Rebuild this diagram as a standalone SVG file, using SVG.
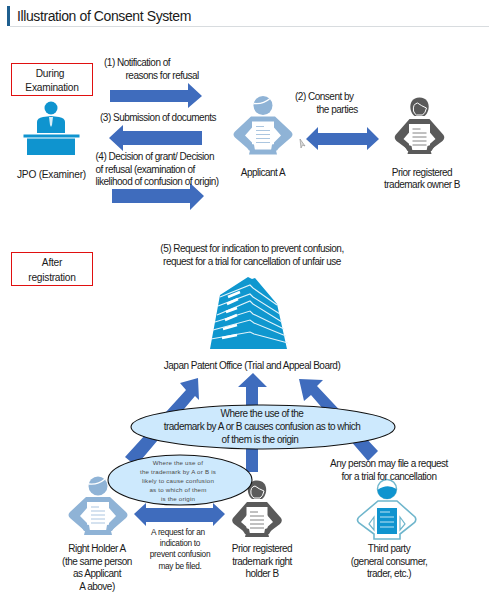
<svg xmlns="http://www.w3.org/2000/svg" width="489" height="600" viewBox="0 0 489 600">
<style>
text{font-family:"Liberation Sans",Arial,sans-serif;font-size:10px;letter-spacing:-.5px;fill:#1a1a1a}
.m{text-anchor:middle}
.b{font-size:10.2px;letter-spacing:-.25px}
.a{fill:#3f6cbd}
.box{fill:#fff;stroke:#e01010;stroke-width:1}
.ell{fill:#cde9fd;stroke:#111;stroke-width:1.1}
.sm{font-size:6.2px;letter-spacing:.2px;fill:#4a4a4a;text-anchor:middle}
.req{font-size:8.3px;letter-spacing:-.3px;text-anchor:middle}
.bl{stroke:#e3f3fa;stroke-width:1.1;fill:none}
.win{stroke:#fff;stroke-width:2.6;fill:none}
</style>
<defs>
<g id="person">
<circle cx="0" cy="0" r="9.5" fill="currentColor"/>
<path d="M-9,-2 Q0,-1 7,-7" stroke="#fff" stroke-width="1.3" fill="none"/>
<path d="M-12,11H12L28,26Q31,29 28,32L13,45L14,49H-14L-13,45L-28,32Q-31,29 -28,26Z" fill="currentColor"/>
<path d="M-11,22L-18,30L-9,39ZM11,22L18,30L9,39Z" fill="#fff"/>
<rect x="-11" y="16" width="22" height="28" fill="#fff"/>
<path d="M-7,21H1M-7,25H7M-7,29H7M-7,33H7M-7,37H7" stroke="currentColor" stroke-width="1" opacity=".75"/>
<path d="M-19,37L-9,39L-8,45H-14ZM19,37L9,39L8,45H14Z" fill="currentColor"/>
</g>
<g id="personF">
<path d="M0,-9.500C7,-9.500 10,-4 9,2Q8,7 5,9H-5Q-8,7 -9,2C-10,-4 -7,-9.500 0,-9.500Z" fill="currentColor"/>
<path d="M-6,4Q-7,-3 -2,-4Q2,-1 7,1Q6,6 3,8H-3Q-5,7 -6,4Z" fill="none" stroke="#fff" stroke-width="1"/>
<path d="M-10,12H10L24,28Q26,31 23,34L11,43L12,47H-12L-11,43L-23,34Q-26,31 -24,28Z" fill="currentColor"/>
<path d="M-10,25L-16,32L-8,39ZM10,25L16,32L8,39Z" fill="#fff"/>
<rect x="-10.500" y="17" width="21" height="26" fill="#fff"/>
<path d="M-7,22H1M-7,26H7M-7,30H7M-7,34H7M-7,38H7" stroke="currentColor" stroke-width="1" opacity=".75"/>
<path d="M-17,36L-8,39L-7,44H-12ZM17,36L8,39L7,44H12Z" fill="currentColor"/>
</g>
</defs>
<rect width="489" height="600" fill="#fff"/>

<g id="title">
<rect x="7" y="6" width="3" height="20" fill="#1f5f8f"/>
<path d="M10,26.500H489" stroke="#d8dcdf"/>
<text x="17" y="21" style="font-size:14px;letter-spacing:-.4px">Illustration of Consent System</text>
</g>

<g id="during-examination">
<rect class="box" x="11.500" y="63.500" width="81" height="32"/>
<text class="m b" x="50" y="77">During</text>
<text class="m b" x="52" y="91">Examination</text>
</g>

<g id="jpo-examiner">
<circle cx="51" cy="108" r="6.500" fill="#0f94cf"/>
<path d="M37,133V122Q37,118 43,117L51,116L59,117Q65,118 65,122V133Z" fill="#0f94cf"/>
<path d="M49,117H53L52,125L51,127L50,125Z" fill="#d8eef8"/>
<rect x="23.500" y="134.500" width="56" height="3" fill="#0f94cf"/>
<rect x="27" y="138.500" width="48" height="16.500" fill="#0f94cf"/>
<text class="m b" x="51.500" y="178">JPO (Examiner)</text>
</g>

<g id="applicant-a">
<use href="#person" x="263" y="105.500" style="color:#8fb3d6"/>
<text class="m" x="263" y="176">Applicant A</text>
</g>

<g id="owner-b">
<use href="#personF" x="419.500" y="107" style="color:#5a5a5a"/>
<text class="m" x="422" y="176">Prior registered</text>
<text class="m" x="422" y="188">trademark owner B</text>
</g>

<g id="building">
<path d="M248,277L252,279L255,278L277,304L287,349H210L220,295Z" fill="#0f97cf"/>
<path class="bl" d="M220,297L250,285L253,288L277,305M218,306L250,294L253,297L280,314M217,315L250,301L253,304L282,322M215,322L250,311L253,314L284,329M213,330L250,320L254,323L286,336M211,339L250,332L254,334L288,343"/>
<path class="win" d="M228,297L240,292M227,304L238,299M226,312L237,308M225,320L237,315M223,329L237,325M222,338L237,335"/>
<text class="m" x="252" y="369">Japan Patent Office (Trial and Appeal Board)</text>
</g>

<g id="connectors">
<polygon class="a" points="110,90 188,90 188,83 202,96 188,108 188,102 110,102"/>
<polygon class="a" points="109,138 123,125 123,131 202,131 202,145 123,145 123,151"/>
<polygon class="a" points="112,189 190,189 190,183 204,196 190,210 190,203 112,203"/>
<polygon class="a" points="306,139 318,127 318,133 367,133 367,127 379,139 367,150 367,145 318,145 318,150"/>
<polygon class="a" points="198,378 180,383 186,390 125,457 136,466 195,396 199,400"/>
<polygon class="a" points="253,373 238,387 246,387 246,472 258,472 258,387 267,387"/>
<polygon class="a" points="299,379 323,380 317,386 378,451 368,461 311,395 304,401"/>
<polygon class="a" points="134,514 146,503 146,508 213,508 213,503 225,514 213,526 213,522 146,522 146,526"/>
<path d="M300,139L305,146L302.500,145L301,148Z" fill="#ddd" stroke="#888" stroke-width=".6"/>
</g>

<g id="labels-exam">
<text x="104" y="66">(1) Notification of</text>
<text x="125.500" y="79">reasons for refusal</text>
<text x="100" y="121">(3) Submission of documents</text>
<text x="95.500" y="160">(4) Decision of grant/ Decision</text>
<text x="95.500" y="172.500">of refusal (examination of</text>
<text x="95.500" y="185">likelihood of confusion of origin)</text>
<text x="295" y="100">(2) Consent by</text>
<text x="316.500" y="113">the parties</text>
</g>

<g id="after-registration">
<rect class="box" x="11.500" y="252.500" width="81" height="33"/>
<text class="m b" x="52" y="266">After</text>
<text class="m b" x="52" y="281">registration</text>
</g>

<g id="request-5">
<text class="m" x="252" y="252">(5) Request for indication to prevent confusion,</text>
<text class="m" x="252" y="265">request for a trial for cancellation of unfair use</text>
</g>

<g id="right-holder-a">
<use href="#person" x="98" y="486" style="color:#8fb3d6"/>
<text class="m" x="97" y="552">Right Holder A</text>
<text class="m" x="97" y="564.500">(the same person</text>
<text class="m" x="97" y="577">as Applicant</text>
<text class="m" x="97" y="590">A above)</text>
</g>

<g id="right-holder-b">
<use href="#personF" x="257" y="490" style="color:#5a5a5a"/>
<text class="m" x="262" y="552">Prior registered</text>
<text class="m" x="262" y="564.500">trademark right</text>
<text class="m" x="262" y="577">holder B</text>
</g>

<g id="third-party">
<circle cx="387" cy="489" r="9.500" fill="#fff" stroke="#6fb6cc" stroke-width="1.5"/>
<path d="M377.500,490Q387,483 396.500,489A9.500,9.500 0 0 1 377.500,490Z" fill="#0f94cf"/>
<path d="M378,501H397L415,517Q417,520 414,523L400,534V539H374V534L359,523Q356,520 359,517Z" fill="#fff" stroke="#6fb6cc" stroke-width="1.6"/>
<path d="M374,517L369,524L374,530ZM400,517L405,524L400,530Z" fill="#fff" stroke="#6fb6cc" stroke-width="1.2"/>
<rect x="377" y="508" width="20" height="26" fill="#0f94cf"/>
<path d="M380,512H390M380,517H394M380,522H394M380,527H394" stroke="#bfe5f5" stroke-width="1"/>
<text class="m" x="389" y="467">Any person may file a request</text>
<text class="m" x="389" y="480">for a trial for cancellation</text>
<text class="m" x="389" y="552">Third party</text>
<text class="m" x="389" y="564.500">(general consumer,</text>
<text class="m" x="389" y="577">trader, etc.)</text>
</g>

<g id="big-ellipse">
<ellipse class="ell" cx="263" cy="427" rx="132" ry="22"/>
<text class="m" x="262" y="417">Where the use of the</text>
<text class="m" x="262" y="430">trademark by A or B causes confusion as to which</text>
<text class="m" x="260" y="443">of them is the origin</text>
</g>

<g id="small-ellipse">
<ellipse class="ell" cx="180" cy="480" rx="72" ry="25"/>
<text class="sm" x="178" y="465">Where the use of</text>
<text class="sm" x="178" y="474">the trademark by A or B is</text>
<text class="sm" x="178" y="483">likely to cause confusion</text>
<text class="sm" x="178" y="492">as to which of them</text>
<text class="sm" x="178" y="500.500">is the origin</text>
</g>

<g id="request-note">
<text class="req" x="178" y="535">A request for an</text>
<text class="req" x="180" y="546">indication to</text>
<text class="req" x="180" y="557">prevent confusion</text>
<text class="req" x="180" y="569">may be filed.</text>
</g>
</svg>
